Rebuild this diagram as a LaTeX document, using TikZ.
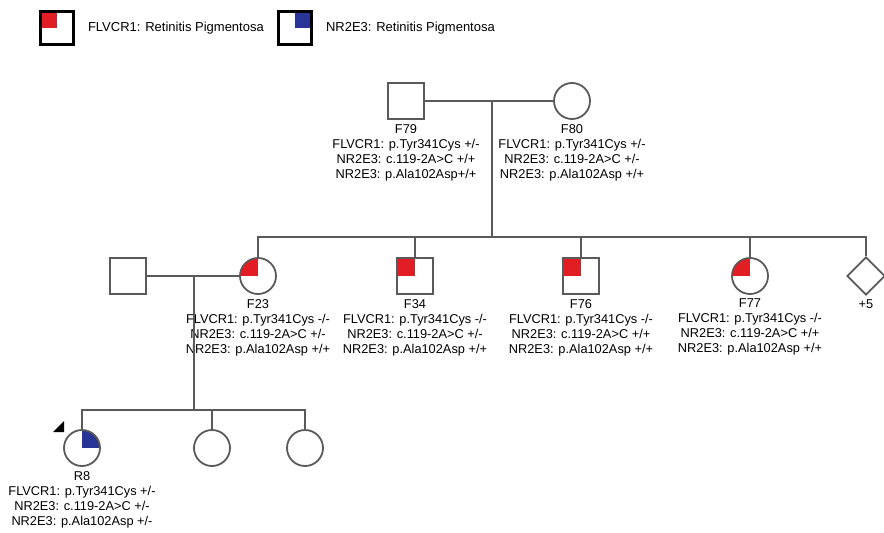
\documentclass[tikz,border=0pt]{standalone}
\usepackage{fontspec}
\setmainfont{Liberation Sans}
\usepackage{tikz}
\usepackage{xcolor}
\usetikzlibrary{positioning, shapes.geometric}
\definecolor{pedgray}{RGB}{90, 90, 90}
\definecolor{pedred}{RGB}{226, 30, 36}
\definecolor{pedblue}{RGB}{40, 52, 150}
\tikzset{
    pednode/.style={draw=pedgray, line width=1.8pt, minimum size=36pt, inner sep=0pt},
    male/.style={pednode, rectangle},
    female/.style={pednode, circle},
    unknown/.style={pednode, diamond, minimum size=38pt},
    flvcr/.style={path picture={\fill[pedred] (path picture bounding box.north west) rectangle (path picture bounding box.center);}},
    nrtwo/.style={path picture={\fill[pedblue] (path picture bounding box.north east) rectangle (path picture bounding box.center);}},
    keybox/.style={rectangle, draw=black, line width=2.6pt, minimum size=33pt, inner sep=0pt},
    pedline/.style={draw=pedgray, line width=1.8pt},
    info/.style={font=\fontsize{12.8}{15}\selectfont, align=center, inner sep=0pt},
    keytxt/.style={font=\fontsize{13}{15}\selectfont, inner sep=0pt}
}

\begin{document}
\begin{tikzpicture}[x=1pt, y=-1pt]
    \useasboundingbox (0,0) rectangle (884,533);
    % legend
    \node[keybox, flvcr] (key1) at (57,28) {};
    \node[keytxt, right=13pt of key1] (key1txt) {FLVCR1: Retinitis Pigmentosa};
    \node[keybox, nrtwo] (key2) at (295,28) {};
    \node[keytxt, right=13pt of key2] (key2txt) {NR2E3: Retinitis Pigmentosa};

    % generation I
    \node[male] (f79) at (406,101) {};
    \node[female] (f80) at (572,101) {};
    \coordinate (m1) at (492,101);
    \coordinate (s1) at (492,237);
    \node[info, below=4pt of f79] (f79txt) {F79\\FLVCR1: p.Tyr341Cys +/-\\NR2E3: c.119-2A>C +/+\\NR2E3: p.Ala102Asp+/+};
    \node[info, below=4pt of f80] (f80txt) {F80\\FLVCR1: p.Tyr341Cys +/-\\NR2E3: c.119-2A>C +/-\\NR2E3: p.Ala102Asp +/+};
    \draw[pedline] (f79) -- (f80);
    \draw[pedline] (m1) -- (s1);

    % generation II
    \node[male] (sp23) at (128,276) {};
    \node[female, flvcr] (f23) at (258,276) {};
    \node[male, flvcr] (f34) at (415,276) {};
    \node[male, flvcr] (f76) at (581,276) {};
    \node[female, flvcr] (f77) at (750,276) {};
    \node[unknown] (more) at (866,276) {};
    \node[info, below=4pt of f23] (f23txt) {F23\\FLVCR1: p.Tyr341Cys -/-\\NR2E3: c.119-2A>C +/-\\NR2E3: p.Ala102Asp +/+};
    \node[info, below=4pt of f34] (f34txt) {F34\\FLVCR1: p.Tyr341Cys -/-\\NR2E3: c.119-2A>C +/-\\NR2E3: p.Ala102Asp +/+};
    \node[info, below=4pt of f76] (f76txt) {F76\\FLVCR1: p.Tyr341Cys -/-\\NR2E3: c.119-2A>C +/+\\NR2E3: p.Ala102Asp +/+};
    \node[info, below=4pt of f77] (f77txt) {F77\\FLVCR1: p.Tyr341Cys -/-\\NR2E3: c.119-2A>C +/+\\NR2E3: p.Ala102Asp +/+};
    \node[info, below=4pt of more] (moretxt) {+5};
    \draw[pedline] (f23.north) -- (f23.north |- s1) -- (more.north |- s1) -- (more.north);
    \draw[pedline] (f34.north) -- (f34.north |- s1);
    \draw[pedline] (f76.north) -- (f76.north |- s1);
    \draw[pedline] (f77.north) -- (f77.north |- s1);

    % generation III
    \coordinate (m2) at (194,276);
    \coordinate (s2) at (194,410);
    \node[female, nrtwo] (r8) at (82,448) {};
    \node[female] (d2) at (212,448) {};
    \node[female] (d3) at (305,448) {};
    \node[info, below=4pt of r8] (r8txt) {R8\\FLVCR1: p.Tyr341Cys +/-\\NR2E3: c.119-2A>C +/-\\NR2E3: p.Ala102Asp +/-};
    \draw[pedline] (sp23) -- (f23);
    \draw[pedline] (m2) -- (s2);
    \draw[pedline] (r8.north) -- (r8.north |- s2) -- (d3.north |- s2) -- (d3.north);
    \draw[pedline] (d2.north) -- (d2.north |- s2);
    % proband
    \fill[black] (53,432) -- (64,432) -- (64,421) -- cycle;
\end{tikzpicture}
\end{document}
